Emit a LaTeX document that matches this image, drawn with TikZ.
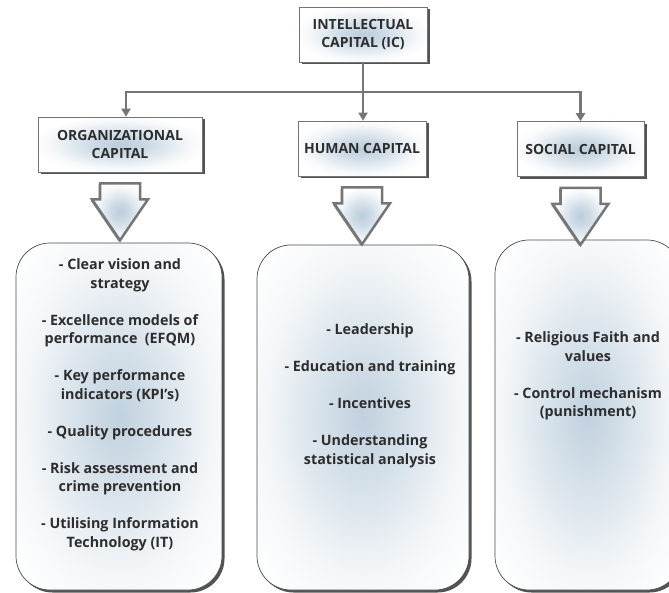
\documentclass[tikz,border=0pt]{standalone}
\usepackage{fontspec}
\setmainfont{Open Sans}
\usetikzlibrary{positioning,shadows,arrows.meta}

\definecolor{textgray}{RGB}{45,45,45}
\definecolor{linegray}{RGB}{118,118,118}
\definecolor{boxblue}{RGB}{186,205,220}
\definecolor{listblue}{RGB}{192,209,222}

\pgfdeclareradialshading{titleshade}{\pgfpoint{0bp}{0bp}}{%
    color(0bp)=(boxblue); color(9bp)=(boxblue!70!white);
    color(21bp)=(boxblue!15!white); color(27bp)=(white); color(50bp)=(white)}
\pgfdeclareradialshading{listshade}{\pgfpoint{0bp}{0bp}}{%
    color(0bp)=(listblue); color(11bp)=(listblue!62!white);
    color(23bp)=(listblue!18!white); color(34bp)=(white); color(50bp)=(white)}

\begin{document}
\begin{tikzpicture}[
    x=1pt, y=-1pt,
    title box/.style={
        rectangle,
        draw=black!55,
        line width=0.6pt,
        shading=titleshade,
        text=textgray,
        align=center,
        font=\bfseries\fontsize{14}{17.5}\selectfont,
        minimum height=55pt,
        drop shadow={shadow xshift=2.5pt, shadow yshift=-2.5pt, fill=black!75, opacity=0.9}
    },
    list box/.style={
        rectangle,
        rounded corners=34pt,
        draw=black!70,
        line width=0.7pt,
        shading=listshade,
        drop shadow={shadow xshift=2.5pt, shadow yshift=-2.5pt, fill=black!75, opacity=0.9}
    },
    item text/.style={
        text=textgray,
        align=center,
        font=\bfseries\fontsize{14.3}{18.5}\selectfont
    },
    link/.style={
        draw=linegray,
        line width=2.5pt,
        -{Triangle[width=9pt,length=8pt]}
    },
    big arrow/.style={
        draw=linegray,
        line width=2.5pt,
        line join=miter,
        shading=titleshade,
        drop shadow={shadow xshift=-1.5pt, shadow yshift=-1pt, fill=black!60, opacity=0.8}
    }
]
\useasboundingbox (0,0) rectangle (669,593);

% Top level
\node [title box, minimum width=128pt] (ic) at (363,34.5) {INTELLECTUAL\\CAPITAL (IC)};

% Capitals
\node [title box, minimum width=164pt] (org) at (120,144.5) {ORGANIZATIONAL\\CAPITAL};
\node [title box, minimum width=128pt] (hum) at (362,148.5) {HUMAN CAPITAL};
\node [title box, minimum width=127pt] (soc) at (580.5,149) {SOCIAL CAPITAL};

% Lists
\node [list box, minimum width=206pt, minimum height=347pt] (orglist) at (119,416.5) {};
\node [list box, minimum width=212pt, minimum height=345pt] (humlist) at (363,417.5) {};
\node [list box, minimum width=186pt, minimum height=350pt] (soclist) at (588,415) {};

\node [item text] (orgtext) at (120,405) {- Clear vision and\\strategy\\[18.5pt]
    - Excellence models of\\performance~ (EFQM)\\[18.5pt]
    - Key performance\\indicators (KPI's)\\[18.5pt]
    - Quality procedures\\[18.5pt]
    - Risk assessment and\\crime prevention\\[18.5pt]
    - Utilising Information\\Technology (IT)};
\node [item text] (humtext) at (370,396) {- Leadership\\[18.5pt]
    - Education and training\\[18.5pt]
    - Incentives\\[18.5pt]
    - Understanding\\statistical analysis};
\node [item text] (soctext) at (588,376) {- Religious Faith and\\values\\[18.5pt]
    - Control mechanism\\(punishment)};

% Connections
\coordinate (bus) at (363,92);
\draw [link] (ic.south) -- (ic.south |- hum.north);
\draw [link] (bus) -| ([xshift=6pt]org.north);
\draw [link] (bus) -| (soc.north);

\foreach \src in {org,hum,soc}
    \draw [big arrow] ([shift={(-20,11)}]\src.south) -- ++(40,0) -- ++(0,16) -- ++(8,0)
        -- ++(-28,41) -- ++(-28,-41) -- ++(8,0) -- cycle;

\end{tikzpicture}
\end{document}
